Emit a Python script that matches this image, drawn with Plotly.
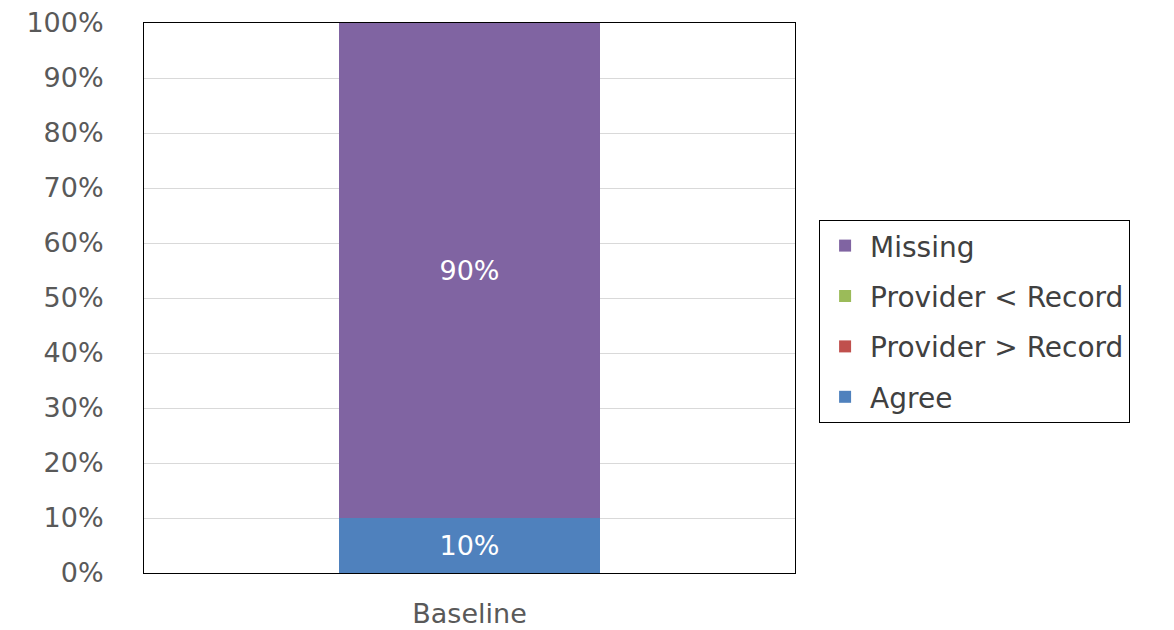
import plotly.graph_objects as go

categories = ["Baseline"]
series_names = ["Agree", "Provider > Record", "Provider < Record", "Missing"]
series_values = [[10], [0], [0], [90]]
series_colors = ["#4F81BD", "#C0504D", "#9BBB59", "#8064A2"]
y_ticks = list(range(0, 101, 10))
y_tick_labels = [f"{t}%" for t in y_ticks]

FONT = "DejaVu Sans"

fig = go.Figure()
n = len(series_names)
for i, (name, vals, color) in enumerate(zip(series_names, series_values, series_colors)):
    fig.add_trace(go.Bar(
        x=categories,
        y=vals,
        name=name,
        legendgroup=name,
        legendrank=n - i,  # top of the stack listed first
        marker=dict(color=color, line=dict(width=0)),
        text=[f"{v}%" if v else "" for v in vals],
        textposition="inside",
        insidetextanchor="middle",
        textfont=dict(family=FONT, size=27, color="white"),
        width=0.4,
    ))

fig.update_layout(
    barmode="stack",
    width=1174,
    height=630,
    margin=dict(l=144, r=379, t=23, b=57, autoexpand=False),
    paper_bgcolor="white",
    plot_bgcolor="white",
    font=dict(family=FONT, size=27, color="#595959"),
    uniformtext=dict(mode="show", minsize=10),
    legend=dict(
        x=1.037, xanchor="left",
        y=0.642, yanchor="top",
        traceorder="grouped",
        tracegroupgap=11,
        bordercolor="#000000",
        borderwidth=1,
        bgcolor="white",
        font=dict(family=FONT, size=28, color="#404040"),
        itemwidth=40,
    ),
    xaxis=dict(
        range=[-0.5, 0.5],
        automargin=False,
        showline=True, linecolor="#000000", linewidth=1, mirror=True,
        showgrid=False,
        ticks="",
        tickfont=dict(family=FONT, size=27, color="#595959"),
        ticklabelstandoff=17,
    ),
    yaxis=dict(
        range=[0, 100],
        automargin=False,
        tickvals=y_ticks,
        ticktext=y_tick_labels,
        showline=True, linecolor="#000000", linewidth=1, mirror=True,
        showgrid=True, gridcolor="#D9D9D9", gridwidth=1,
        ticks="",
        zeroline=False,
        tickfont=dict(family=FONT, size=27, color="#595959"),
        ticklabelstandoff=34,
    ),
)

fig.write_html("out.html")
